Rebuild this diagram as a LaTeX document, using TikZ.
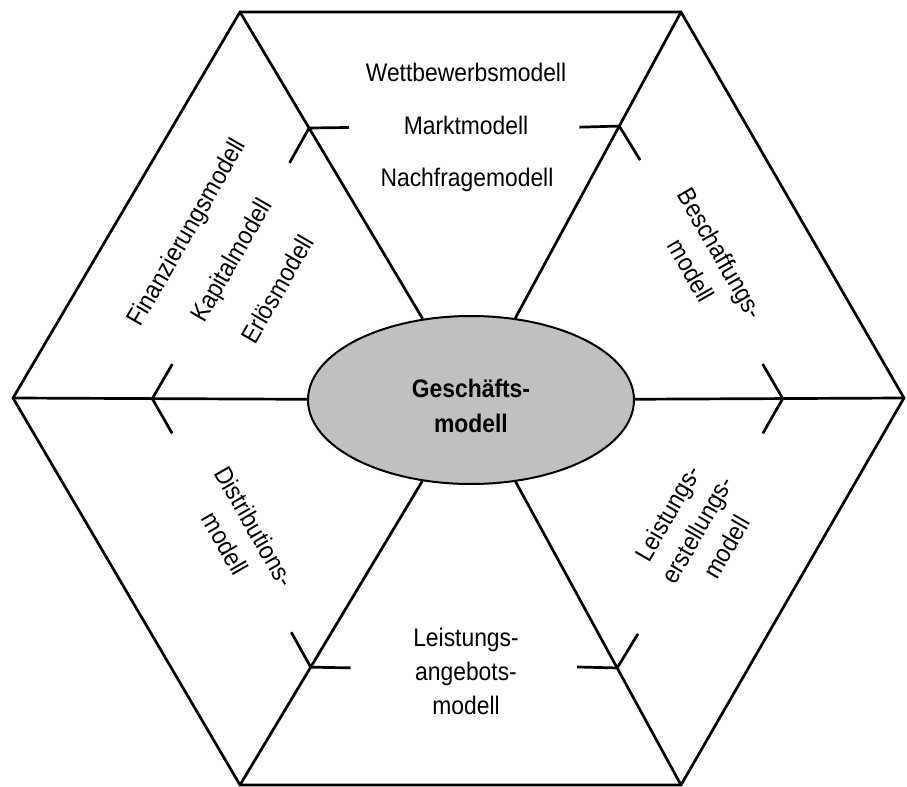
\documentclass[tikz,border=0pt]{standalone}
\usepackage{fontspec}
\setmainfont{Liberation Sans}[FakeStretch=0.9]
\usetikzlibrary{shapes.geometric,calc}
\definecolor{ellfill}{RGB}{192,192,192}
\begin{document}
\begin{tikzpicture}[x=0.5pt,y=-0.5pt,line width=1.35pt,
  lbl/.style={font=\fontsize{12.7}{17}\selectfont,inner sep=0pt,align=center},
  core/.style={ellipse,draw,fill=ellfill,line width=1pt,minimum width=163pt,minimum height=84pt,inner sep=0pt},
  coretext/.style={inner sep=0pt,align=center,font=\fontsize{12.7}{17.5}\selectfont\bfseries}]
\useasboundingbox (0,0) rectangle (907,787);
% hexagon vertices
\coordinate (L) at (13,398);
\coordinate (TL) at (240,12);
\coordinate (TR) at (681,12);
\coordinate (R) at (904,398);
\coordinate (BR) at (681,785);
\coordinate (BL) at (240,785);
\draw[line join=miter] (L) -- (TL) -- (TR) -- (R) -- (BR) -- (BL) -- cycle;
% centre
\node[core] (g) at (471,400) {};
\node[coretext] (gt) at (471,406) {Geschäfts-\\modell};
% spokes
\foreach \v in {L,TL,TR,R,BR,BL} {\draw (g) -- (\v);}
% arrow marks
\path (g.center) -- (L)  coordinate[pos=0.696] (aL);
\path (g.center) -- (R)  coordinate[pos=0.720] (aR);
\path (g.center) -- (TL) coordinate[pos=0.701] (aTL);
\path (g.center) -- (TR) coordinate[pos=0.706] (aTR);
\path (g.center) -- (BL) coordinate[pos=0.694] (aBL);
\path (g.center) -- (BR) coordinate[pos=0.696] (aBR);
\foreach \a/\v in {aL/L,aR/R,aTL/TL,aTR/TR,aBL/BL,aBR/BR} {
  \draw ($(\a)!20pt!120:(\v)$) -- (\a) -- ($(\a)!20pt!-120:(\v)$);
}
% labels
\node[lbl,anchor=base] (t1) at (466,82) {Wettbewerbsmodell};
\node[lbl,anchor=base] (t2) at (466,134) {Marktmodell};
\node[lbl,anchor=base] (t3) at (467,186) {Nachfragemodell};
\node[lbl,rotate=60] (f1) at (188,233) {Finanzierungsmodell};
\node[lbl,rotate=60] (f2) at (233,261) {Kapitalmodell};
\node[lbl,rotate=60] (f3) at (277,289) {Erlösmodell};
\node[lbl,rotate=-60] (b) at (706,262) {Beschaffungs-\\modell};
\node[lbl,rotate=-60] (d) at (240,535) {Distributions-\\modell};
\node[lbl,rotate=60] (le) at (697,530) {Leistungs-\\erstellungs-\\modell};
\node[lbl] (la) at (466,671) {Leistungs-\\angebots-\\modell};
\end{tikzpicture}
\end{document}
